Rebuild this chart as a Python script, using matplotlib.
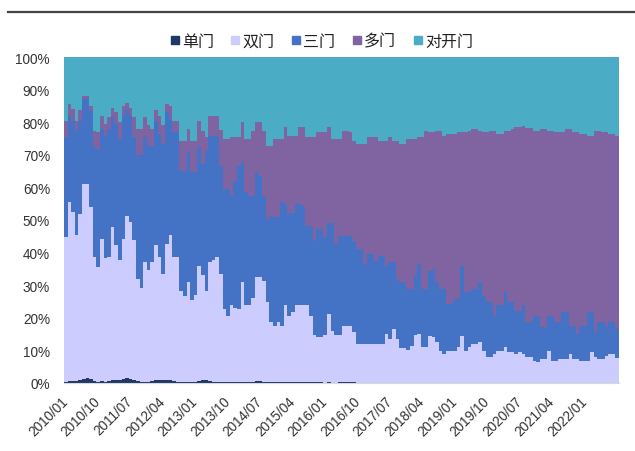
import matplotlib
matplotlib.use("Agg")
import matplotlib.pyplot as plt
from matplotlib.lines import Line2D
import numpy as np

plt.rcParams['font.family'] = ['Liberation Sans', 'Noto Sans CJK SC', 'DejaVu Sans']

# Monthly share of refrigerator sales by door type, 2010/01 - 2022/10 (%)
single_door = [
    0.3, 0.5, 0.5, 0.6, 0.9, 1.3, 1.5, 1.2, 0.6, 0.3, 0.5, 0.4, 0.6, 0.8, 0.9, 0.8,
    1.3, 1.5, 1.2, 0.8, 0.5, 0.3, 0.4, 0.3, 0.6, 0.8, 0.9, 0.8, 0.9, 0.8, 0.6, 0.3,
    0.2, 0.4, 0.2, 0.3, 0.2, 0.6, 0.8, 0.9, 0.6, 0.3, 0.3, 0.3, 0.3, 0.3, 0.3, 0.3,
    0.2, 0.2, 0.3, 0.2, 0.2, 0.5, 0.6, 0.3, 0.2, 0.2, 0.2, 0.2, 0.2, 0.2, 0.2, 0.2,
    0.2, 0.2, 0.2, 0.2, 0.2, 0.2, 0.2, 0.2, 0.0, 0.3, 0.0, 0.0, 0.3, 0.3, 0.3, 0.3,
    0.3, 0.0, 0.0, 0.0, 0.0, 0.0, 0.0, 0.0, 0.0, 0.0, 0.0, 0.0, 0.0, 0.0, 0.0, 0.0,
    0.0, 0.0, 0.0, 0.0, 0.0, 0.0, 0.0, 0.0, 0.0, 0.0, 0.0, 0.0, 0.0, 0.0, 0.0, 0.0,
    0.0, 0.0, 0.0, 0.0, 0.0, 0.0, 0.0, 0.0, 0.0, 0.0, 0.0, 0.0, 0.0, 0.0, 0.0, 0.0,
    0.0, 0.0, 0.0, 0.0, 0.0, 0.0, 0.0, 0.0, 0.0, 0.0, 0.0, 0.0, 0.0, 0.0, 0.0, 0.0,
    0.0, 0.0, 0.0, 0.0, 0.0, 0.0, 0.0, 0.0, 0.0, 0.0,
]
double_door = [
    44.4, 54.9, 52.1, 44.9, 50.9, 59.7, 59.5, 52.8, 38.0, 35.3, 43.8, 37.8, 38.0, 47.2, 41.3, 36.8,
    43.0, 49.6, 48.2, 43.0, 31.5, 28.9, 36.6, 34.4, 36.6, 41.5, 37.7, 32.7, 41.6, 44.5, 38.0, 38.3,
    27.9, 26.4, 30.7, 25.3, 26.8, 35.4, 32.2, 27.2, 36.6, 37.4, 38.3, 33.0, 22.4, 20.4, 23.5, 22.7,
    22.5, 30.7, 23.5, 23.6, 25.8, 31.9, 31.8, 31.1, 24.6, 18.5, 17.4, 18.5, 17.4, 23.6, 20.5, 21.5,
    23.6, 23.6, 23.6, 23.6, 20.5, 14.4, 13.9, 13.9, 14.6, 20.9, 16.1, 14.6, 14.3, 17.3, 17.3, 17.3,
    15.3, 12.0, 12.0, 12.0, 12.0, 12.0, 12.0, 12.0, 12.0, 15.0, 13.6, 16.6, 13.6, 10.6, 10.6, 10.1,
    11.2, 14.6, 15.0, 10.9, 10.9, 14.5, 14.0, 12.5, 9.9, 8.9, 9.9, 9.9, 9.9, 10.9, 14.5, 9.9,
    10.9, 12.0, 12.0, 12.5, 9.9, 7.9, 7.9, 8.9, 9.9, 9.9, 10.9, 9.4, 9.4, 8.9, 9.4, 8.9,
    7.9, 7.9, 6.9, 6.4, 7.4, 7.4, 9.9, 6.9, 6.9, 7.4, 7.4, 7.4, 8.9, 7.4, 7.4, 6.9,
    6.9, 6.9, 9.4, 7.9, 7.4, 7.4, 8.4, 8.9, 8.9, 7.6,
]
three_door = [
    30.7, 26.6, 27.9, 31.9, 28.7, 26.1, 26.1, 29.5, 33.7, 36.2, 33.6, 37.7, 39.3, 33.5, 37.3, 37.2,
    37.7, 32.9, 32.6, 31.6, 37.8, 40.6, 38.4, 38.1, 35.6, 38.2, 37.8, 39.8, 40.5, 35.7, 38.3, 38.3,
    37.0, 38.3, 39.9, 39.0, 37.6, 36.3, 34.2, 43.2, 38.7, 38.2, 37.3, 33.4, 36.8, 38.8, 33.7, 39.0,
    44.0, 36.8, 34.7, 33.7, 31.5, 32.2, 31.2, 26.1, 25.5, 32.6, 33.2, 32.1, 37.8, 31.1, 31.6, 30.6,
    31.1, 31.1, 30.6, 24.4, 27.5, 29.1, 33.1, 33.1, 30.1, 28.0, 33.1, 28.0, 30.6, 27.6, 27.6, 27.6,
    28.1, 29.1, 29.1, 24.5, 27.6, 27.6, 25.0, 27.0, 27.0, 21.0, 23.4, 20.4, 18.3, 20.3, 20.3, 18.8,
    17.7, 18.4, 21.5, 18.0, 18.0, 20.0, 21.0, 18.4, 19.0, 20.0, 14.4, 14.4, 15.9, 14.9, 21.5, 17.9,
    16.9, 16.9, 16.9, 18.4, 16.9, 16.9, 16.9, 11.8, 13.9, 13.9, 16.9, 15.4, 15.4, 13.3, 12.8, 14.9,
    10.8, 10.8, 13.8, 14.3, 9.7, 9.7, 10.8, 13.8, 11.8, 11.3, 14.3, 14.3, 8.7, 10.2, 7.7, 10.7,
    10.7, 14.8, 12.3, 7.7, 11.3, 11.3, 8.7, 9.8, 9.8, 9.0,
]
multi_door = [
    5.1, 3.6, 3.5, 3.1, 3.2, 0.9, 0.9, 1.5, 5.1, 5.2, 4.1, 3.6, 3.6, 3.0, 3.5, 5.2,
    3.0, 2.0, 2.5, 6.1, 8.2, 8.2, 6.1, 6.2, 5.2, 3.2, 5.6, 5.7, 2.6, 4.0, 3.6, 3.6,
    9.2, 9.2, 7.2, 9.7, 9.7, 8.2, 10.2, 4.2, 6.1, 6.1, 6.1, 10.8, 15.3, 15.3, 17.9, 13.4,
    8.7, 12.3, 16.3, 17.3, 19.9, 15.4, 16.4, 19.9, 22.5, 21.5, 24.0, 24.0, 19.4, 23.5, 23.6, 23.6,
    21.0, 23.5, 24.0, 27.2, 27.2, 31.7, 29.7, 29.7, 32.2, 29.2, 25.6, 32.2, 29.6, 32.2, 32.2, 31.7,
    30.6, 32.2, 32.2, 36.8, 35.8, 35.8, 38.4, 35.3, 35.3, 38.3, 38.4, 37.3, 42.4, 42.4, 42.4, 45.9,
    45.9, 41.8, 38.9, 46.5, 48.5, 42.4, 41.9, 46.5, 48.5, 47.0, 52.1, 52.1, 50.6, 51.1, 40.9, 49.1,
    49.6, 49.0, 49.0, 46.5, 50.1, 52.1, 52.6, 56.7, 52.6, 52.6, 49.6, 52.6, 53.1, 56.2, 56.2, 54.9,
    59.4, 59.4, 56.7, 56.7, 60.8, 60.8, 56.7, 56.7, 58.2, 58.2, 55.2, 56.2, 60.3, 59.3, 61.8, 58.8,
    58.8, 54.2, 54.2, 61.8, 58.7, 58.2, 59.8, 57.7, 57.7, 59.1,
]
side_by_side = [
    19.5, 14.4, 16.0, 19.5, 16.3, 12.0, 12.0, 15.0, 22.6, 23.0, 18.0, 20.5, 18.5, 15.5, 17.0, 20.0,
    15.0, 14.0, 15.5, 18.5, 22.0, 22.0, 18.5, 21.0, 22.0, 16.3, 18.0, 21.0, 14.4, 15.0, 19.5, 19.5,
    25.7, 25.7, 22.0, 25.7, 25.7, 19.5, 22.6, 24.5, 18.0, 18.0, 18.0, 22.5, 25.2, 25.2, 24.6, 24.6,
    24.6, 20.0, 25.2, 25.2, 22.6, 20.0, 20.0, 22.6, 27.2, 27.2, 25.2, 25.2, 25.2, 21.6, 24.1, 24.1,
    24.1, 21.6, 21.6, 24.6, 24.6, 24.6, 23.1, 23.1, 23.1, 21.6, 25.2, 25.2, 25.2, 22.6, 22.6, 23.1,
    25.7, 26.7, 26.7, 26.7, 24.6, 24.6, 24.6, 25.7, 25.7, 25.7, 24.6, 25.7, 25.7, 26.7, 26.7, 25.2,
    25.2, 25.2, 24.6, 24.6, 22.6, 23.1, 23.1, 22.6, 22.6, 24.1, 23.6, 23.6, 23.6, 23.1, 23.1, 23.1,
    22.6, 22.1, 22.1, 22.6, 23.1, 23.1, 22.6, 22.6, 23.6, 23.6, 22.6, 22.6, 22.1, 21.6, 21.6, 21.3,
    21.9, 21.9, 22.6, 22.6, 22.1, 22.1, 22.6, 22.6, 23.1, 23.1, 23.1, 22.1, 22.1, 23.1, 23.1, 23.6,
    23.6, 24.1, 24.1, 22.6, 22.6, 23.1, 23.1, 23.6, 23.6, 24.3,
]

series_names = ['单门', '双门', '三门', '多门', '对开门']
series_colors = ['#1F3864', '#CCCCFF', '#4472C4', '#8064A2', '#4BACC6']

tick_labels = ['2010/01', '2010/10', '2011/07', '2012/04', '2013/01', '2013/10',
               '2014/07', '2015/04', '2016/01', '2016/10', '2017/07', '2018/04',
               '2019/01', '2019/10', '2020/07', '2021/04', '2022/01']
tick_step = 9

fig = plt.figure(figsize=(6.35, 4.52), dpi=100)
ax = fig.add_axes([64 / 635, 1 - 384 / 452, 555 / 635, 326 / 452])

all_series = [single_door, double_door, three_door, multi_door, side_by_side]
n = len(single_door)
edges = np.arange(n + 1)
base = np.zeros(n)
for vals, color in zip(all_series, series_colors):
    top = base + np.asarray(vals, dtype=float)
    ax.stairs(top, edges, baseline=base, fill=True, color=color, linewidth=0)
    base = top

ax.set_xlim(0, n)
ax.set_ylim(0, 100)
ax.set_yticks(np.arange(0, 101, 10))
ax.set_yticklabels([f'{v}%' for v in range(0, 101, 10)])
ax.set_xticks(np.arange(len(tick_labels)) * tick_step + 0.5)
ax.set_xticklabels(tick_labels, rotation=45, ha='right', va='center',
                   rotation_mode='anchor')
ax.tick_params(axis='both', length=0, labelsize=9.8, colors='#333333')
ax.tick_params(axis='x', pad=11)
ax.tick_params(axis='y', pad=10)
for side in ['top', 'right', 'left']:
    ax.spines[side].set_visible(False)
ax.spines['bottom'].set_color('#d9d9d9')
ax.spines['bottom'].set_linewidth(0.8)

handles = [Line2D([], [], marker='s', linestyle='none', markersize=5.5,
                  markerfacecolor=c, markeredgecolor=c) for c in series_colors]
fig.legend(handles, series_names, loc='center', bbox_to_anchor=(0.506, 1 - 42 / 452),
           ncol=5, frameon=False, fontsize=11.5, handlelength=0.6, handletextpad=0.15,
           columnspacing=1.05, labelcolor='#222222')

fig.add_artist(Line2D([8 / 635, 1.0], [1 - 13 / 452, 1 - 13 / 452],
                      color='#444444', linewidth=1.6))

fig.savefig('out.png', dpi=100, facecolor='white')
